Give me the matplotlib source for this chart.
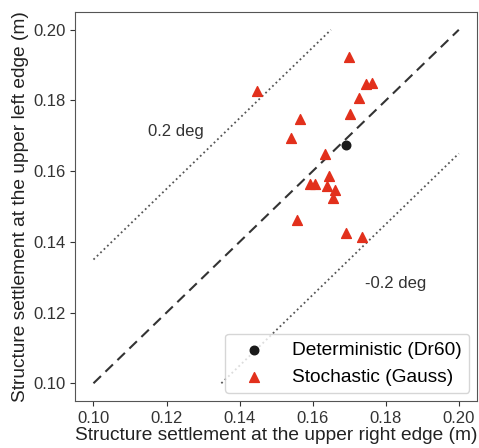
import numpy as np
import matplotlib.pyplot as plt

plt.rcParams['font.family'] = ['Liberation Sans', 'DejaVu Sans']

# deterministic result
det_x = [0.1692]
det_y = [0.1675]

# stochastic results (Gauss)
sto_x = [0.1699, 0.1448, 0.1745, 0.1763, 0.1727, 0.1565, 0.1701, 0.1541, 0.1635,
         0.1644, 0.1593, 0.1606, 0.1639, 0.1661, 0.1656, 0.1558, 0.1691, 0.1736]
sto_y = [0.1923, 0.1826, 0.1847, 0.1850, 0.1808, 0.1748, 0.1762, 0.1694, 0.1649,
         0.1586, 0.1564, 0.1564, 0.1558, 0.1547, 0.1525, 0.1461, 0.1426, 0.1415]

# reference lines
diag = [0.10, 0.20]
offset = 0.035  # 0.2 deg tilt
upper_x = [0.10, 0.165]
lower_x = [0.135, 0.20]

fig = plt.figure(figsize=(4.79, 4.48), dpi=100)
ax = fig.add_axes([0.157, 0.105, 0.839, 0.868])

ax.plot(diag, diag, color='#333333', linestyle=(0, (5, 3)), linewidth=1.5)
ax.plot(upper_x, np.array(upper_x) + offset, color='#555555', linestyle=':', linewidth=1.3)
ax.plot(lower_x, np.array(lower_x) - offset, color='#555555', linestyle=':', linewidth=1.3)

ax.scatter(det_x, det_y, s=38, color='#1a1a1a', marker='o', label='Deterministic (Dr60)', zorder=3)
ax.scatter(sto_x, sto_y, s=50, color='#e2301c', marker='^', label='Stochastic (Gauss)', zorder=3)

ax.text(0.1225, 0.1711, '0.2 deg', fontsize=12, color='#333333', ha='center', va='center')
ax.text(0.1742, 0.1282, '-0.2 deg', fontsize=12, color='#333333', ha='left', va='center')

ax.set_xlim(0.095, 0.205)
ax.set_ylim(0.095, 0.205)
ax.set_xticks([0.10, 0.12, 0.14, 0.16, 0.18, 0.20])
ax.set_yticks([0.10, 0.12, 0.14, 0.16, 0.18, 0.20])
ax.tick_params(labelsize=12, colors='#333333')
for s in ax.spines.values():
    s.set_color('#555555')

ax.set_xlabel('Structure settlement at the upper right edge (m)', fontsize=13.8, color='#222222', labelpad=1)
ax.set_ylabel('Structure settlement at the upper left edge (m)', fontsize=13.8, color='#222222', labelpad=3)

ax.legend(loc='lower right', fontsize=13.8, frameon=True, handletextpad=0.9,
          handlelength=2.2, borderaxespad=0.4)

fig.savefig('out.png', dpi=100)
